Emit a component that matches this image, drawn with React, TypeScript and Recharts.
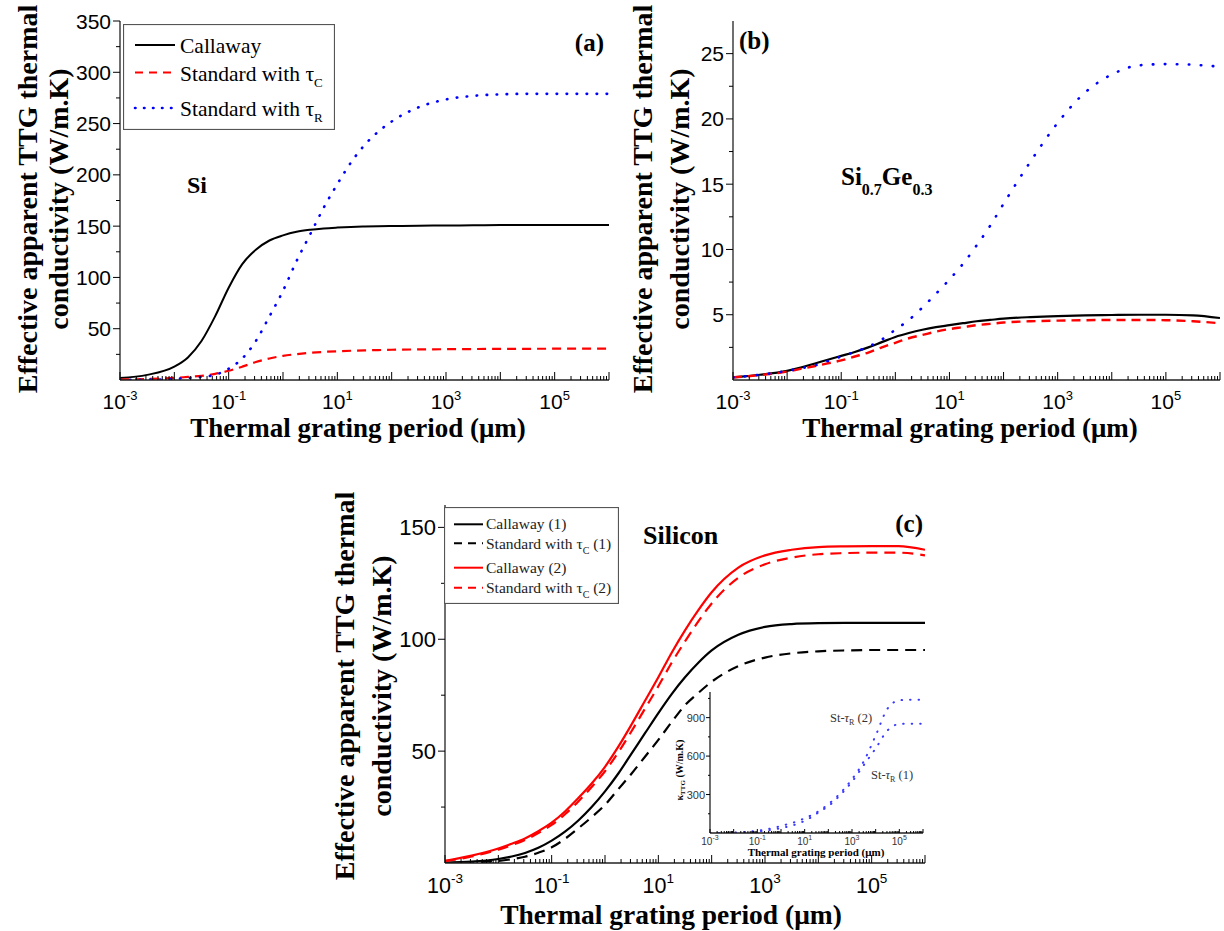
import React from "react";
import { LineChart, Line, XAxis, YAxis, Legend } from "recharts";

// log10 of the thermal grating period (µm) at which every curve was read
const periodExp = [-3, -2.5, -2, -1.75, -1.5, -1.25, -1, -0.75, -0.5, -0.25, 0, 0.25, 0.5, 0.75, 1, 1.25, 1.5, 1.75, 2, 2.5, 3, 3.5, 4, 4.5, 5, 5.5, 6];

// (a) Si
const siCallaway = [2, 5, 13, 22, 38, 62, 90, 113, 127, 136, 141, 144.5, 146.5, 147.8, 148.6, 149.2, 149.6, 149.9, 150.1, 150.4, 150.6, 150.8, 151, 151, 151, 151, 151];
const siStdTauC = [0.5, 1, 2, 3, 4, 6, 9, 13, 17.5, 21, 23.5, 25.2, 26.5, 27.4, 28, 28.5, 28.9, 29.2, 29.5, 29.8, 30, 30.2, 30.3, 30.4, 30.5, 30.5, 30.5];
const siStdTauR = [0, 0.3, 1, 2, 3, 5, 11, 21, 38, 62, 87, 116, 142, 168, 191, 212, 229, 242, 252, 266, 273.5, 277, 278.5, 279, 279, 279, 279];

// (b) Si0.7Ge0.3
const sigeCallaway = [0.2, 0.4, 0.7, 0.95, 1.25, 1.55, 1.85, 2.15, 2.5, 2.9, 3.3, 3.6, 3.85, 4.05, 4.2, 4.35, 4.5, 4.6, 4.7, 4.82, 4.9, 4.95, 4.98, 5.0, 5.0, 4.95, 4.75];
const sigeStdTauC = [0.2, 0.38, 0.65, 0.85, 1.05, 1.27, 1.5, 1.8, 2.1, 2.5, 2.85, 3.2, 3.45, 3.7, 3.9, 4.05, 4.2, 4.3, 4.4, 4.5, 4.55, 4.58, 4.6, 4.6, 4.58, 4.5, 4.35];
const sigeStdTauR = [0.2, 0.4, 0.7, 0.9, 1.1, 1.45, 1.8, 2.15, 2.55, 3.1, 3.85, 4.6, 5.55, 6.6, 7.7, 8.9, 10.3, 11.8, 13.5, 16.75, 19.7, 22.0, 23.4, 24.1, 24.2, 24.15, 24.0];

// (c) Silicon, two parameter sets
const siliconCallaway1 = [0.2, 0.6, 1.8, 2.9, 4.5, 6.8, 10, 14, 19, 25, 32, 40, 49, 58, 67, 75.5, 83, 89.5, 95, 102, 105.5, 106.8, 107.2, 107.3, 107.3, 107.3, 107.3];
const siliconStdTauC1 = [0, 0.3, 0.9, 1.7, 2.8, 4.6, 7, 10.8, 15.5, 20.5, 26, 33, 40, 47.5, 55, 63, 70.5, 76, 81, 88, 91.8, 93.7, 94.6, 95, 95.2, 95.2, 95.2];
const siliconCallaway2 = [1, 3.3, 6.5, 8.6, 11, 14.2, 18, 23, 29, 35.5, 43, 52, 62, 72.5, 83, 94, 104, 113, 121, 132, 137.5, 140, 141.2, 141.5, 141.6, 141.6, 140];
const siliconStdTauC2 = [0.8, 2.9, 6, 8, 10.3, 13.4, 17, 21.8, 27.5, 34, 41, 49.5, 59, 69, 79, 89.5, 99, 108, 116, 127.5, 133.5, 136.5, 138, 138.5, 138.7, 138.7, 137.5];

// (c) inset, standard model with tau_R
const insetStdTauR2 = [0, 1, 3, 5, 8, 12, 17, 24, 33, 43, 55, 67, 80, 96, 115, 136, 160, 190, 225, 310, 420, 560, 760, 970, 1035, 1040, 1040];
const insetStdTauR1 = [0, 0.5, 2, 3.5, 5, 7.5, 11, 16, 22, 29, 38, 48, 60, 76, 95, 120, 150, 180, 210, 295, 400, 530, 660, 800, 850, 853, 853];

// axis ticks
const xLabelExps = [-3, -1, 1, 3, 5];
const yLabelsA = [50, 100, 150, 200, 250, 300, 350];
const yMinorA = [25, 75, 125, 175, 225, 275, 325];
const yLabelsB = [5, 10, 15, 20, 25];
const yMinorB = [2.5, 7.5, 12.5, 17.5, 22.5];
const yLabelsC = [50, 100, 150];
const yMinorC = [25, 75, 125];
const yLabelsInset = [300, 600, 900];
const yMinorInset = [150, 450, 750, 1050];

const SERIF = '"Liberation Serif", "Times New Roman", serif';
const SANS = '"Liberation Sans", Arial, sans-serif';

const toPeriod = (e: number) => Math.pow(10, e);

const dataA = periodExp.map((e, i) => ({ period: toPeriod(e), callaway: siCallaway[i], stdC: siStdTauC[i], stdR: siStdTauR[i] }));
const dataB = periodExp.map((e, i) => ({ period: toPeriod(e), callaway: sigeCallaway[i], stdC: sigeStdTauC[i], stdR: sigeStdTauR[i] }));
const dataC = periodExp.map((e, i) => ({
  period: toPeriod(e),
  cal1: siliconCallaway1[i],
  std1: siliconStdTauC1[i],
  cal2: siliconCallaway2[i],
  std2: siliconStdTauC2[i],
}));
const dataInset = periodExp.map((e, i) => ({ period: toPeriod(e), r2: insetStdTauR2[i], r1: insetStdTauR1[i] }));

// 1..9 x 10^d for every decade of the axis
const logTicks: number[] = [];
for (let d = -3; d < 6; d++) for (let m = 1; m < 10; m++) logTicks.push(m * Math.pow(10, d));
logTicks.push(1e6);

type TickOpt = { major: number; minor: number; font: number; sup: number; dy: number; supDy: number; color?: string };

const logTick = (o: TickOpt) => (p: any) => {
  const v = p.payload.value;
  const e = Math.log10(v);
  const r = Math.round(e);
  const major = Math.abs(e - r) < 1e-6;
  return (
    <g>
      <line x1={p.x} x2={p.x} y1={p.y} y2={p.y - (major ? o.major : o.minor)} stroke="#000" strokeWidth={1} />
      {major && xLabelExps.includes(r) && (
        <text x={p.x} y={p.y + o.dy} textAnchor="middle" fontFamily={SANS} fontSize={o.font} fill={o.color || "#000"}>
          10
          <tspan dy={o.supDy} fontSize={o.sup}>
            {r}
          </tspan>
        </text>
      )}
    </g>
  );
};

const linTick = (labels: number[], o: { major: number; minor: number; font: number; gap: number; color?: string }) => (p: any) => {
  const v = p.payload.value;
  const major = labels.includes(v);
  return (
    <g>
      <line x1={p.x} x2={p.x - (major ? o.major : o.minor)} y1={p.y} y2={p.y} stroke="#000" strokeWidth={1} />
      {major && (
        <text x={p.x - o.gap} y={p.y + o.font * 0.36} textAnchor="end" fontFamily={SANS} fontSize={o.font} fill={o.color || "#000"}>
          {v}
        </text>
      )}
    </g>
  );
};

const frame = { stroke: "#222", strokeWidth: 1.3 };

type Entry = { label: string; sub?: string; tail?: string; color: string; dash?: string; cap?: "round" | "butt" };

const legendEntriesA: Entry[] = [
  { label: "Callaway", color: "#000" },
  { label: "Standard with τ", sub: "C", color: "#ff0000", dash: "8 6" },
  { label: "Standard with τ", sub: "R", color: "#0000ff", dash: "0.5 8.5", cap: "round" },
];

const legendEntriesC: Entry[] = [
  { label: "Callaway (1)", color: "#000" },
  { label: "Standard with τ", sub: "C", tail: " (1)", color: "#000", dash: "8 6" },
  { label: "Callaway (2)", color: "#ff0000" },
  { label: "Standard with τ", sub: "C", tail: " (2)", color: "#ff0000", dash: "8 6" },
];

function LegendBox({ entries, w, h, lineYs, baseYs, x0, x1, tx, font, sub, subDy, lw, color }: any) {
  return (
    <svg width={w} height={h} style={{ display: "block" }}>
      <rect x={0.5} y={0.5} width={w - 1} height={h - 1} fill="#fff" stroke="#555" strokeWidth={1.2} />
      {entries.map((en: Entry, i: number) => (
        <g key={i}>
          <line x1={x0} x2={x1} y1={lineYs[i]} y2={lineYs[i]} stroke={en.color} strokeWidth={en.cap ? lw + 0.6 : lw} strokeDasharray={en.dash} strokeLinecap={en.cap || "butt"} />
          <text x={tx} y={baseYs[i]} fontFamily={SERIF} fontSize={font} fill={color}>
            {en.label}
            {en.sub && (
              <tspan dy={subDy} fontSize={sub}>
                {en.sub}
              </tspan>
            )}
            {en.tail && <tspan dy={en.sub ? -subDy : 0}>{en.tail}</tspan>}
          </text>
        </g>
      ))}
    </svg>
  );
}

function Panel({ data, width, height, margin, yw, xh, yDomain, yTicks, yLabels, xTickOpt, yTickOpt, children, legend }: any) {
  return (
    <LineChart width={width} height={height} data={data} margin={margin}>
      <XAxis
        dataKey="period"
        type="number"
        scale="log"
        domain={[1e-3, 1e6]}
        allowDataOverflow
        ticks={logTicks}
        interval={0}
        tickSize={0}
        tickMargin={0}
        tickLine={false}
        axisLine={frame}
        height={xh}
        tick={logTick(xTickOpt)}
      />
      <XAxis xAxisId="top" orientation="top" dataKey="period" type="number" scale="log" domain={[1e-3, 1e6]} allowDataOverflow height={0} tick={false} tickLine={false} axisLine={frame} />
      <YAxis
        type="number"
        domain={yDomain}
        allowDataOverflow
        ticks={yTicks}
        interval={0}
        tickSize={0}
        tickMargin={0}
        tickLine={false}
        axisLine={frame}
        width={yw}
        tick={linTick(yLabels, yTickOpt)}
      />
      <YAxis yAxisId="right" orientation="right" domain={yDomain} width={0} tick={false} tickLine={false} axisLine={frame} />
      {legend}
      {children}
    </LineChart>
  );
}

const ticksA = [...yLabelsA, ...yMinorA].sort((a, b) => a - b);
const ticksB = [...yLabelsB, ...yMinorB].sort((a, b) => a - b);
const ticksC = [...yLabelsC, ...yMinorC].sort((a, b) => a - b);
const ticksInset = [...yLabelsInset, ...yMinorInset].sort((a, b) => a - b);

const mainX: TickOpt = { major: 8, minor: 4, font: 21, sup: 13, dy: 29, supDy: -9 };
const mainY = { major: 7, minor: 4, font: 21, gap: 9 };

function YTitle({ x, y, size, lines, gap }: any) {
  return (
    <g>
      {lines.map((t: string, i: number) => (
        <text key={i} transform={`translate(${x + i * gap},${y}) rotate(-90)`} textAnchor="middle" fontFamily={SERIF} fontWeight="bold" fontSize={size}>
          {t}
        </text>
      ))}
    </g>
  );
}

export default function App() {
  const yTitle = ["Effective apparent TTG thermal", "conductivity (W/m.K)"];
  return (
    <div style={{ position: "absolute", left: 0, top: 0, width: 1224, height: 931, background: "#fff", overflow: "hidden" }}>
      <div style={{ position: "absolute", left: 0, top: 0 }}>
        <Panel
          data={dataA}
          width={612}
          height={460}
          margin={{ top: 21, right: 3, bottom: 0, left: 0 }}
          yw={120}
          xh={80}
          yDomain={[0, 350]}
          yTicks={ticksA}
          yLabels={yLabelsA}
          xTickOpt={mainX}
          yTickOpt={mainY}
          legend={
            <Legend
              layout="vertical"
              align="center"
              verticalAlign="middle"
              wrapperStyle={{ left: 123, top: 24, width: 212, height: 106 }}
              content={() => (
                <LegendBox entries={legendEntriesA} w={212} h={106} lineYs={[21, 48.5, 84]} baseYs={[28.5, 56.5, 91.5]} x0={12} x1={52} tx={57} font={21.5} sub={13} subDy={6.5} lw={2} color="#000" />
              )}
            />
          }
        >
          <Line dataKey="callaway" type="monotone" stroke="#000" strokeWidth={2} dot={false} isAnimationActive={false} />
          <Line dataKey="stdC" type="monotone" stroke="#ff0000" strokeWidth={2.2} strokeDasharray="9 6" dot={false} isAnimationActive={false} />
          <Line dataKey="stdR" type="monotone" stroke="#0000ff" strokeWidth={2.6} strokeDasharray="0.5 9.5" strokeLinecap="round" dot={false} isAnimationActive={false} />
        </Panel>
      </div>

      <div style={{ position: "absolute", left: 612, top: 0 }}>
        <Panel
          data={dataB}
          width={612}
          height={460}
          margin={{ top: 21, right: 4, bottom: 0, left: 0 }}
          yw={121}
          xh={80}
          yDomain={[0, 27.5]}
          yTicks={ticksB}
          yLabels={yLabelsB}
          xTickOpt={mainX}
          yTickOpt={mainY}
        >
          <Line dataKey="callaway" type="monotone" stroke="#000" strokeWidth={2.2} dot={false} isAnimationActive={false} />
          <Line dataKey="stdC" type="monotone" stroke="#ff0000" strokeWidth={2.4} strokeDasharray="9 6" dot={false} isAnimationActive={false} />
          <Line dataKey="stdR" type="monotone" stroke="#0000ff" strokeWidth={2.6} strokeDasharray="0.5 11.5" strokeLinecap="round" dot={false} isAnimationActive={false} />
        </Panel>
      </div>

      <div style={{ position: "absolute", left: 320, top: 470 }}>
        <Panel
          data={dataC}
          width={610}
          height={461}
          margin={{ top: 35, right: 5, bottom: 0, left: 0 }}
          yw={125}
          xh={68}
          yDomain={[0, 160]}
          yTicks={ticksC}
          yLabels={yLabelsC}
          xTickOpt={{ major: 8, minor: 4, font: 21.5, sup: 13.5, dy: 30, supDy: -10 }}
          yTickOpt={{ major: 7, minor: 4, font: 22, gap: 9 }}
          legend={
            <Legend
              layout="vertical"
              align="center"
              verticalAlign="middle"
              wrapperStyle={{ left: 124, top: 37, width: 175, height: 97 }}
              content={() => (
                <LegendBox entries={legendEntriesC} w={175} h={97} lineYs={[17.3, 36.3, 60.7, 80.7]} baseYs={[22, 41.5, 65.5, 85.5]} x0={10} x1={39} tx={42} font={15.5} sub={10} subDy={5} lw={2} color="#222" />
              )}
            />
          }
        >
          <Line dataKey="cal1" type="monotone" stroke="#000" strokeWidth={2.2} dot={false} isAnimationActive={false} />
          <Line dataKey="std1" type="monotone" stroke="#000" strokeWidth={2.2} strokeDasharray="11 7" dot={false} isAnimationActive={false} />
          <Line dataKey="cal2" type="monotone" stroke="#ff0000" strokeWidth={2.2} dot={false} isAnimationActive={false} />
          <Line dataKey="std2" type="monotone" stroke="#ff0000" strokeWidth={2.2} strokeDasharray="11 7" dot={false} isAnimationActive={false} />
        </Panel>
      </div>

      <div style={{ position: "absolute", left: 676, top: 686 }}>
        <Panel
          data={dataInset}
          width={250}
          height={172}
          margin={{ top: 6, right: 3, bottom: 0, left: 0 }}
          yw={34}
          xh={25}
          yDomain={[0, 1100]}
          yTicks={ticksInset}
          yLabels={yLabelsInset}
          xTickOpt={{ major: 4, minor: 2, font: 10, sup: 7, dy: 12, supDy: -5, color: "#333" }}
          yTickOpt={{ major: 4, minor: 2, font: 11, gap: 5, color: "#333" }}
        >
          <Line dataKey="r2" type="monotone" stroke="#3a3aff" strokeWidth={2} strokeDasharray="0.5 8" strokeLinecap="round" dot={false} isAnimationActive={false} />
          <Line dataKey="r1" type="monotone" stroke="#3a3aff" strokeWidth={2} strokeDasharray="0.5 8" strokeLinecap="round" dot={false} isAnimationActive={false} />
        </Panel>
      </div>

      <svg width={1224} height={931} style={{ position: "absolute", left: 0, top: 0, pointerEvents: "none" }}>
        <YTitle x={37} y={199} size={28} lines={yTitle} gap={31} />
        <YTitle x={652} y={199} size={28} lines={yTitle} gap={37} />
        <YTitle x={354} y={686} size={28} lines={yTitle} gap={37} />

        <text x={358} y={437} textAnchor="middle" fontFamily={SERIF} fontWeight="bold" fontSize={27}>
          Thermal grating period (μm)
        </text>
        <text x={970} y={437} textAnchor="middle" fontFamily={SERIF} fontWeight="bold" fontSize={27}>
          Thermal grating period (μm)
        </text>
        <text x={671} y={924} textAnchor="middle" fontFamily={SERIF} fontWeight="bold" fontSize={27.5}>
          Thermal grating period (μm)
        </text>

        <text x={604} y={51} textAnchor="end" fontFamily={SERIF} fontWeight="bold" fontSize={25}>
          (a)
        </text>
        <text x={739} y={49} fontFamily={SERIF} fontWeight="bold" fontSize={25}>
          (b)
        </text>
        <text x={923} y={532} textAnchor="end" fontFamily={SERIF} fontWeight="bold" fontSize={25}>
          (c)
        </text>

        <text x={187} y={193} fontFamily={SERIF} fontWeight="bold" fontSize={24}>
          Si
        </text>
        <text x={841} y={185} fontFamily={SERIF} fontWeight="bold" fontSize={25}>
          Si
          <tspan dy={10} fontSize={16}>
            0.7
          </tspan>
          <tspan dy={-10}>Ge</tspan>
          <tspan dy={10} fontSize={16}>
            0.3
          </tspan>
        </text>
        <text x={643} y={544} fontFamily={SERIF} fontWeight="bold" fontSize={26}>
          Silicon
        </text>

        <text x={816} y={856} textAnchor="middle" fontFamily={SERIF} fontWeight="bold" fontSize={11}>
          Thermal grating period (μm)
        </text>
        <text transform="translate(683,770) rotate(-90)" textAnchor="middle" fontFamily={SERIF} fontWeight="bold" fontSize={10}>
          κ
          <tspan dy={2} fontSize={7}>
            TTG
          </tspan>
          <tspan dy={-2}> (W/m.K)</tspan>
        </text>
        <text x={830} y={722} fontFamily={SERIF} fontSize={12.5} fill="#333">
          St-<tspan fontStyle="italic">τ</tspan>
          <tspan dy={3} fontSize={8}>
            R
          </tspan>
          <tspan dy={-3}> (2)</tspan>
        </text>
        <text x={871} y={779} fontFamily={SERIF} fontSize={12.5} fill="#333">
          St-<tspan fontStyle="italic">τ</tspan>
          <tspan dy={3} fontSize={8}>
            R
          </tspan>
          <tspan dy={-3}> (1)</tspan>
        </text>
      </svg>
    </div>
  );
}
